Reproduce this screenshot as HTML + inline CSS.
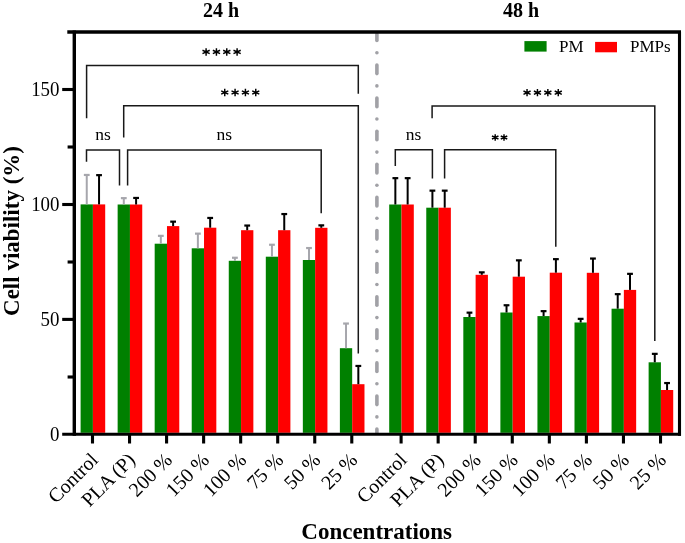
<!DOCTYPE html><html><head><meta charset="utf-8"><style>svg{will-change:transform}html,body{margin:0;padding:0;background:#fff;width:685px;height:543px;overflow:hidden}</style></head><body><svg width="685" height="543" viewBox="0 0 685 543" style="display:block"><rect width="685" height="543" fill="#fff"/><g stroke="#a1a1a6" stroke-width="3.6" stroke-linecap="round"><line x1="376.9" y1="34.0" x2="376.9" y2="40.5"/><line x1="376.9" y1="52.8" x2="376.9" y2="52.81"/><line x1="376.9" y1="65.0" x2="376.9" y2="73.6"/><line x1="376.9" y1="85.9" x2="376.9" y2="85.91"/><line x1="376.9" y1="98.1" x2="376.9" y2="106.7"/><line x1="376.9" y1="119.0" x2="376.9" y2="119.01"/><line x1="376.9" y1="131.2" x2="376.9" y2="139.8"/><line x1="376.9" y1="152.1" x2="376.9" y2="152.11"/><line x1="376.9" y1="164.3" x2="376.9" y2="172.9"/><line x1="376.9" y1="185.2" x2="376.9" y2="185.21"/><line x1="376.9" y1="197.4" x2="376.9" y2="206.0"/><line x1="376.9" y1="218.3" x2="376.9" y2="218.31"/><line x1="376.9" y1="230.5" x2="376.9" y2="239.1"/><line x1="376.9" y1="251.4" x2="376.9" y2="251.41"/><line x1="376.9" y1="263.6" x2="376.9" y2="272.2"/><line x1="376.9" y1="284.5" x2="376.9" y2="284.51"/><line x1="376.9" y1="296.7" x2="376.9" y2="305.3"/><line x1="376.9" y1="317.6" x2="376.9" y2="317.61"/><line x1="376.9" y1="329.8" x2="376.9" y2="338.4"/><line x1="376.9" y1="350.7" x2="376.9" y2="350.71"/><line x1="376.9" y1="362.9" x2="376.9" y2="371.5"/><line x1="376.9" y1="383.8" x2="376.9" y2="383.81"/><line x1="376.9" y1="396.0" x2="376.9" y2="404.6"/><line x1="376.9" y1="416.9" x2="376.9" y2="416.91"/><line x1="376.9" y1="429.1" x2="376.9" y2="432.5"/></g><rect x="80.60" y="204.4" width="12.3" height="228.40" fill="#008000"/><rect x="92.90" y="204.4" width="12.3" height="228.40" fill="#ff0000"/><line x1="86.75" y1="204.4" x2="86.75" y2="174.90" stroke="#a6a6ac" stroke-width="2"/><line x1="83.85" y1="174.95" x2="89.65" y2="174.95" stroke="#a6a6ac" stroke-width="2.2"/><line x1="99.05" y1="204.4" x2="99.05" y2="175.10" stroke="#000" stroke-width="2"/><line x1="96.15" y1="175.15" x2="101.95" y2="175.15" stroke="#000" stroke-width="2.2"/><rect x="117.64" y="204.5" width="12.3" height="228.30" fill="#008000"/><rect x="129.94" y="204.5" width="12.3" height="228.30" fill="#ff0000"/><line x1="123.79" y1="204.5" x2="123.79" y2="198.10" stroke="#a6a6ac" stroke-width="2"/><line x1="120.89" y1="198.15" x2="126.69" y2="198.15" stroke="#a6a6ac" stroke-width="2.2"/><line x1="136.09" y1="204.5" x2="136.09" y2="197.90" stroke="#000" stroke-width="2"/><line x1="133.19" y1="197.95" x2="138.99" y2="197.95" stroke="#000" stroke-width="2.2"/><rect x="154.68" y="243.7" width="12.3" height="189.10" fill="#008000"/><rect x="166.98" y="226.1" width="12.3" height="206.70" fill="#ff0000"/><line x1="160.83" y1="243.7" x2="160.83" y2="235.80" stroke="#a6a6ac" stroke-width="2"/><line x1="157.93" y1="235.85" x2="163.73" y2="235.85" stroke="#a6a6ac" stroke-width="2.2"/><line x1="173.13" y1="226.1" x2="173.13" y2="221.60" stroke="#000" stroke-width="2"/><line x1="170.23" y1="221.65" x2="176.03" y2="221.65" stroke="#000" stroke-width="2.2"/><rect x="191.72" y="248.3" width="12.3" height="184.50" fill="#008000"/><rect x="204.02" y="227.7" width="12.3" height="205.10" fill="#ff0000"/><line x1="197.87" y1="248.3" x2="197.87" y2="233.60" stroke="#a6a6ac" stroke-width="2"/><line x1="194.97" y1="233.65" x2="200.77" y2="233.65" stroke="#a6a6ac" stroke-width="2.2"/><line x1="210.17" y1="227.7" x2="210.17" y2="217.90" stroke="#000" stroke-width="2"/><line x1="207.27" y1="217.95" x2="213.07" y2="217.95" stroke="#000" stroke-width="2.2"/><rect x="228.76" y="260.8" width="12.3" height="172.00" fill="#008000"/><rect x="241.06" y="230.2" width="12.3" height="202.60" fill="#ff0000"/><line x1="234.91" y1="260.8" x2="234.91" y2="257.70" stroke="#a6a6ac" stroke-width="2"/><line x1="232.01" y1="257.75" x2="237.81" y2="257.75" stroke="#a6a6ac" stroke-width="2.2"/><line x1="247.21" y1="230.2" x2="247.21" y2="225.50" stroke="#000" stroke-width="2"/><line x1="244.31" y1="225.55" x2="250.11" y2="225.55" stroke="#000" stroke-width="2.2"/><rect x="265.80" y="256.7" width="12.3" height="176.10" fill="#008000"/><rect x="278.10" y="230.2" width="12.3" height="202.60" fill="#ff0000"/><line x1="271.95" y1="256.7" x2="271.95" y2="244.70" stroke="#a6a6ac" stroke-width="2"/><line x1="269.05" y1="244.75" x2="274.85" y2="244.75" stroke="#a6a6ac" stroke-width="2.2"/><line x1="284.25" y1="230.2" x2="284.25" y2="214.00" stroke="#000" stroke-width="2"/><line x1="281.35" y1="214.05" x2="287.15" y2="214.05" stroke="#000" stroke-width="2.2"/><rect x="302.84" y="260.0" width="12.3" height="172.80" fill="#008000"/><rect x="315.14" y="227.8" width="12.3" height="205.00" fill="#ff0000"/><line x1="308.99" y1="260.0" x2="308.99" y2="248.00" stroke="#a6a6ac" stroke-width="2"/><line x1="306.09" y1="248.05" x2="311.89" y2="248.05" stroke="#a6a6ac" stroke-width="2.2"/><line x1="321.29" y1="227.8" x2="321.29" y2="225.30" stroke="#000" stroke-width="2"/><line x1="318.39" y1="225.35" x2="324.19" y2="225.35" stroke="#000" stroke-width="2.2"/><rect x="339.88" y="348.2" width="12.3" height="84.60" fill="#008000"/><rect x="352.18" y="384.2" width="12.3" height="48.60" fill="#ff0000"/><line x1="346.03" y1="348.2" x2="346.03" y2="323.50" stroke="#a6a6ac" stroke-width="2"/><line x1="343.13" y1="323.55" x2="348.93" y2="323.55" stroke="#a6a6ac" stroke-width="2.2"/><line x1="358.33" y1="384.2" x2="358.33" y2="365.90" stroke="#000" stroke-width="2"/><line x1="355.43" y1="365.95" x2="361.23" y2="365.95" stroke="#000" stroke-width="2.2"/><rect x="389.20" y="204.5" width="12.3" height="228.30" fill="#008000"/><rect x="401.50" y="204.5" width="12.3" height="228.30" fill="#ff0000"/><line x1="395.35" y1="204.5" x2="395.35" y2="178.10" stroke="#000" stroke-width="2"/><line x1="392.45" y1="178.15" x2="398.25" y2="178.15" stroke="#000" stroke-width="2.2"/><line x1="407.65" y1="204.5" x2="407.65" y2="178.10" stroke="#000" stroke-width="2"/><line x1="404.75" y1="178.15" x2="410.55" y2="178.15" stroke="#000" stroke-width="2.2"/><rect x="426.26" y="207.7" width="12.3" height="225.10" fill="#008000"/><rect x="438.56" y="207.7" width="12.3" height="225.10" fill="#ff0000"/><line x1="432.41" y1="207.7" x2="432.41" y2="190.60" stroke="#000" stroke-width="2"/><line x1="429.51" y1="190.65" x2="435.31" y2="190.65" stroke="#000" stroke-width="2.2"/><line x1="444.71" y1="207.7" x2="444.71" y2="190.60" stroke="#000" stroke-width="2"/><line x1="441.81" y1="190.65" x2="447.61" y2="190.65" stroke="#000" stroke-width="2.2"/><rect x="463.32" y="317.0" width="12.3" height="115.80" fill="#008000"/><rect x="475.62" y="274.8" width="12.3" height="158.00" fill="#ff0000"/><line x1="469.47" y1="317.0" x2="469.47" y2="312.60" stroke="#000" stroke-width="2"/><line x1="466.57" y1="312.65" x2="472.37" y2="312.65" stroke="#000" stroke-width="2.2"/><line x1="481.77" y1="274.8" x2="481.77" y2="272.30" stroke="#000" stroke-width="2"/><line x1="478.87" y1="272.35" x2="484.67" y2="272.35" stroke="#000" stroke-width="2.2"/><rect x="500.38" y="312.5" width="12.3" height="120.30" fill="#008000"/><rect x="512.68" y="276.7" width="12.3" height="156.10" fill="#ff0000"/><line x1="506.53" y1="312.5" x2="506.53" y2="305.20" stroke="#000" stroke-width="2"/><line x1="503.63" y1="305.25" x2="509.43" y2="305.25" stroke="#000" stroke-width="2.2"/><line x1="518.83" y1="276.7" x2="518.83" y2="260.30" stroke="#000" stroke-width="2"/><line x1="515.93" y1="260.35" x2="521.73" y2="260.35" stroke="#000" stroke-width="2.2"/><rect x="537.44" y="316.1" width="12.3" height="116.70" fill="#008000"/><rect x="549.74" y="272.7" width="12.3" height="160.10" fill="#ff0000"/><line x1="543.59" y1="316.1" x2="543.59" y2="311.10" stroke="#000" stroke-width="2"/><line x1="540.69" y1="311.15" x2="546.49" y2="311.15" stroke="#000" stroke-width="2.2"/><line x1="555.89" y1="272.7" x2="555.89" y2="259.10" stroke="#000" stroke-width="2"/><line x1="552.99" y1="259.15" x2="558.79" y2="259.15" stroke="#000" stroke-width="2.2"/><rect x="574.50" y="322.5" width="12.3" height="110.30" fill="#008000"/><rect x="586.80" y="272.8" width="12.3" height="160.00" fill="#ff0000"/><line x1="580.65" y1="322.5" x2="580.65" y2="318.80" stroke="#000" stroke-width="2"/><line x1="577.75" y1="318.85" x2="583.55" y2="318.85" stroke="#000" stroke-width="2.2"/><line x1="592.95" y1="272.8" x2="592.95" y2="258.50" stroke="#000" stroke-width="2"/><line x1="590.05" y1="258.55" x2="595.85" y2="258.55" stroke="#000" stroke-width="2.2"/><rect x="611.56" y="308.7" width="12.3" height="124.10" fill="#008000"/><rect x="623.86" y="289.9" width="12.3" height="142.90" fill="#ff0000"/><line x1="617.71" y1="308.7" x2="617.71" y2="294.10" stroke="#000" stroke-width="2"/><line x1="614.81" y1="294.15" x2="620.61" y2="294.15" stroke="#000" stroke-width="2.2"/><line x1="630.01" y1="289.9" x2="630.01" y2="273.80" stroke="#000" stroke-width="2"/><line x1="627.11" y1="273.85" x2="632.91" y2="273.85" stroke="#000" stroke-width="2.2"/><rect x="648.62" y="362.3" width="12.3" height="70.50" fill="#008000"/><rect x="660.92" y="390.0" width="12.3" height="42.80" fill="#ff0000"/><line x1="654.77" y1="362.3" x2="654.77" y2="353.80" stroke="#000" stroke-width="2"/><line x1="651.87" y1="353.85" x2="657.67" y2="353.85" stroke="#000" stroke-width="2.2"/><line x1="667.07" y1="390.0" x2="667.07" y2="383.00" stroke="#000" stroke-width="2"/><line x1="664.17" y1="383.05" x2="669.97" y2="383.05" stroke="#000" stroke-width="2.2"/><polyline points="86.6,118.2 86.6,65.4 358.3,65.4 358.3,93.8" fill="none" stroke="#181818" stroke-width="1.5"/><polyline points="123.7,137.4 123.7,105.8 358.3,105.8 358.3,353.4" fill="none" stroke="#181818" stroke-width="1.5"/><polyline points="86.5,161.8 86.5,150.1 119.5,150.1 119.5,185.5" fill="none" stroke="#181818" stroke-width="1.5"/><polyline points="127.6,185.5 127.6,150.1 321.2,150.1 321.2,213.3" fill="none" stroke="#181818" stroke-width="1.5"/><polyline points="432.1,118.3 432.1,106.0 654.8,106.0 654.8,340.9" fill="none" stroke="#181818" stroke-width="1.5"/><polyline points="395.3,166.1 395.3,149.8 432.4,149.8 432.4,178.6" fill="none" stroke="#181818" stroke-width="1.5"/><polyline points="444.6,178.6 444.6,149.8 555.8,149.8 555.8,246.8" fill="none" stroke="#181818" stroke-width="1.5"/><path d="M206.10,48.15L206.10,55.65M202.49,50.22L209.71,53.58M202.49,53.58L209.71,50.22" stroke="#000" stroke-width="1.45" fill="none"/><circle cx="206.10" cy="51.90" r="1.15" fill="#000"/><path d="M216.43,48.15L216.43,55.65M212.83,50.22L220.04,53.58M212.83,53.58L220.04,50.22" stroke="#000" stroke-width="1.45" fill="none"/><circle cx="216.43" cy="51.90" r="1.15" fill="#000"/><path d="M226.77,48.15L226.77,55.65M223.16,50.22L230.37,53.58M223.16,53.58L230.37,50.22" stroke="#000" stroke-width="1.45" fill="none"/><circle cx="226.77" cy="51.90" r="1.15" fill="#000"/><path d="M237.10,48.15L237.10,55.65M233.49,50.22L240.71,53.58M233.49,53.58L240.71,50.22" stroke="#000" stroke-width="1.45" fill="none"/><circle cx="237.10" cy="51.90" r="1.15" fill="#000"/><path d="M224.75,88.85L224.75,96.25M221.19,90.89L228.31,94.21M221.19,94.21L228.31,90.89" stroke="#000" stroke-width="1.45" fill="none"/><circle cx="224.75" cy="92.55" r="1.15" fill="#000"/><path d="M235.08,88.85L235.08,96.25M231.52,90.89L238.64,94.21M231.52,94.21L238.64,90.89" stroke="#000" stroke-width="1.45" fill="none"/><circle cx="235.08" cy="92.55" r="1.15" fill="#000"/><path d="M245.42,88.85L245.42,96.25M241.86,90.89L248.98,94.21M241.86,94.21L248.98,90.89" stroke="#000" stroke-width="1.45" fill="none"/><circle cx="245.42" cy="92.55" r="1.15" fill="#000"/><path d="M255.75,88.85L255.75,96.25M252.19,90.89L259.31,94.21M252.19,94.21L259.31,90.89" stroke="#000" stroke-width="1.45" fill="none"/><circle cx="255.75" cy="92.55" r="1.15" fill="#000"/><path d="M527.05,88.95L527.05,96.35M523.49,90.99L530.61,94.31M523.49,94.31L530.61,90.99" stroke="#000" stroke-width="1.45" fill="none"/><circle cx="527.05" cy="92.65" r="1.15" fill="#000"/><path d="M537.45,88.95L537.45,96.35M533.89,90.99L541.01,94.31M533.89,94.31L541.01,90.99" stroke="#000" stroke-width="1.45" fill="none"/><circle cx="537.45" cy="92.65" r="1.15" fill="#000"/><path d="M547.85,88.95L547.85,96.35M544.29,90.99L551.41,94.31M544.29,94.31L551.41,90.99" stroke="#000" stroke-width="1.45" fill="none"/><circle cx="547.85" cy="92.65" r="1.15" fill="#000"/><path d="M558.25,88.95L558.25,96.35M554.69,90.99L561.81,94.31M554.69,94.31L561.81,90.99" stroke="#000" stroke-width="1.45" fill="none"/><circle cx="558.25" cy="92.65" r="1.15" fill="#000"/><path d="M495.20,134.15L495.20,140.85M491.96,135.99L498.44,139.01M491.96,139.01L498.44,135.99" stroke="#000" stroke-width="1.45" fill="none"/><circle cx="495.20" cy="137.50" r="1.15" fill="#000"/><path d="M504.00,134.15L504.00,140.85M500.76,135.99L507.24,139.01M500.76,139.01L507.24,135.99" stroke="#000" stroke-width="1.45" fill="none"/><circle cx="504.00" cy="137.50" r="1.15" fill="#000"/><g stroke="#000" stroke-width="3.1" fill="none"><line x1="74.3" y1="30.4" x2="74.3" y2="435.8" stroke-width="3.4"/><line x1="67.3" y1="32.0" x2="681.0" y2="32.0" stroke-width="3.3"/><line x1="679.5" y1="32.0" x2="679.5" y2="435.8"/><line x1="62.2" y1="434.3" x2="681.0" y2="434.3"/><line x1="62.2" y1="89.5" x2="74.3" y2="89.5"/><line x1="62.2" y1="204.5" x2="74.3" y2="204.5"/><line x1="62.2" y1="319.4" x2="74.3" y2="319.4"/><line x1="67.6" y1="147.0" x2="74.3" y2="147.0"/><line x1="67.6" y1="262.0" x2="74.3" y2="262.0"/><line x1="67.6" y1="377.0" x2="74.3" y2="377.0"/><line x1="92.50" y1="434.3" x2="92.50" y2="443.5"/><line x1="129.54" y1="434.3" x2="129.54" y2="443.5"/><line x1="166.58" y1="434.3" x2="166.58" y2="443.5"/><line x1="203.62" y1="434.3" x2="203.62" y2="443.5"/><line x1="240.66" y1="434.3" x2="240.66" y2="443.5"/><line x1="277.70" y1="434.3" x2="277.70" y2="443.5"/><line x1="314.74" y1="434.3" x2="314.74" y2="443.5"/><line x1="351.78" y1="434.3" x2="351.78" y2="443.5"/><line x1="401.10" y1="434.3" x2="401.10" y2="443.5"/><line x1="438.16" y1="434.3" x2="438.16" y2="443.5"/><line x1="475.22" y1="434.3" x2="475.22" y2="443.5"/><line x1="512.28" y1="434.3" x2="512.28" y2="443.5"/><line x1="549.34" y1="434.3" x2="549.34" y2="443.5"/><line x1="586.40" y1="434.3" x2="586.40" y2="443.5"/><line x1="623.46" y1="434.3" x2="623.46" y2="443.5"/><line x1="660.52" y1="434.3" x2="660.52" y2="443.5"/></g><g font-family="'Liberation Serif', serif" fill="#000"><text transform="translate(59.5,95.9) scale(0.945,1)" font-size="20" text-anchor="end">150</text><text transform="translate(59.5,210.9) scale(0.945,1)" font-size="20" text-anchor="end">100</text><text transform="translate(59.5,325.8) scale(0.945,1)" font-size="20" text-anchor="end">50</text><text transform="translate(59.5,440.7) scale(0.945,1)" font-size="20" text-anchor="end">0</text><text x="221" y="17.1" font-size="20" font-weight="bold" text-anchor="middle">24 h</text><text x="521" y="17.1" font-size="20" font-weight="bold" text-anchor="middle">48 h</text><text x="376.7" y="538.6" font-size="23" font-weight="bold" text-anchor="middle">Concentrations</text><text transform="translate(19.3,231) rotate(-90)" font-size="23" font-weight="bold" text-anchor="middle">Cell viability (%)</text><text x="103" y="139.9" font-size="17.5" text-anchor="middle">ns</text><text x="224.4" y="139.9" font-size="17.5" text-anchor="middle">ns</text><text x="413.6" y="140.2" font-size="17.5" text-anchor="middle">ns</text><rect x="524.4" y="41.1" width="22.2" height="10.5" fill="#008000"/><rect x="595.1" y="41.9" width="21.9" height="10.4" fill="#ff0000"/><text x="559.1" y="52" font-size="17">PM</text><text x="630" y="52.3" font-size="17">PMPs</text><text transform="translate(99.3,461.1) rotate(-45)" font-size="20" text-anchor="end">Control</text><text transform="translate(136.3,461.1) rotate(-45)" font-size="20" text-anchor="end">PLA (P)</text><text transform="translate(173.4,461.1) rotate(-45)" font-size="20" text-anchor="end">200 %</text><text transform="translate(210.4,461.1) rotate(-45)" font-size="20" text-anchor="end">150 %</text><text transform="translate(247.5,461.1) rotate(-45)" font-size="20" text-anchor="end">100 %</text><text transform="translate(284.5,461.1) rotate(-45)" font-size="20" text-anchor="end">75 %</text><text transform="translate(321.5,461.1) rotate(-45)" font-size="20" text-anchor="end">50 %</text><text transform="translate(358.6,461.1) rotate(-45)" font-size="20" text-anchor="end">25 %</text><text transform="translate(407.9,461.1) rotate(-45)" font-size="20" text-anchor="end">Control</text><text transform="translate(445.0,461.1) rotate(-45)" font-size="20" text-anchor="end">PLA (P)</text><text transform="translate(482.0,461.1) rotate(-45)" font-size="20" text-anchor="end">200 %</text><text transform="translate(519.1,461.1) rotate(-45)" font-size="20" text-anchor="end">150 %</text><text transform="translate(556.1,461.1) rotate(-45)" font-size="20" text-anchor="end">100 %</text><text transform="translate(593.2,461.1) rotate(-45)" font-size="20" text-anchor="end">75 %</text><text transform="translate(630.3,461.1) rotate(-45)" font-size="20" text-anchor="end">50 %</text><text transform="translate(667.3,461.1) rotate(-45)" font-size="20" text-anchor="end">25 %</text></g></svg></body></html>
